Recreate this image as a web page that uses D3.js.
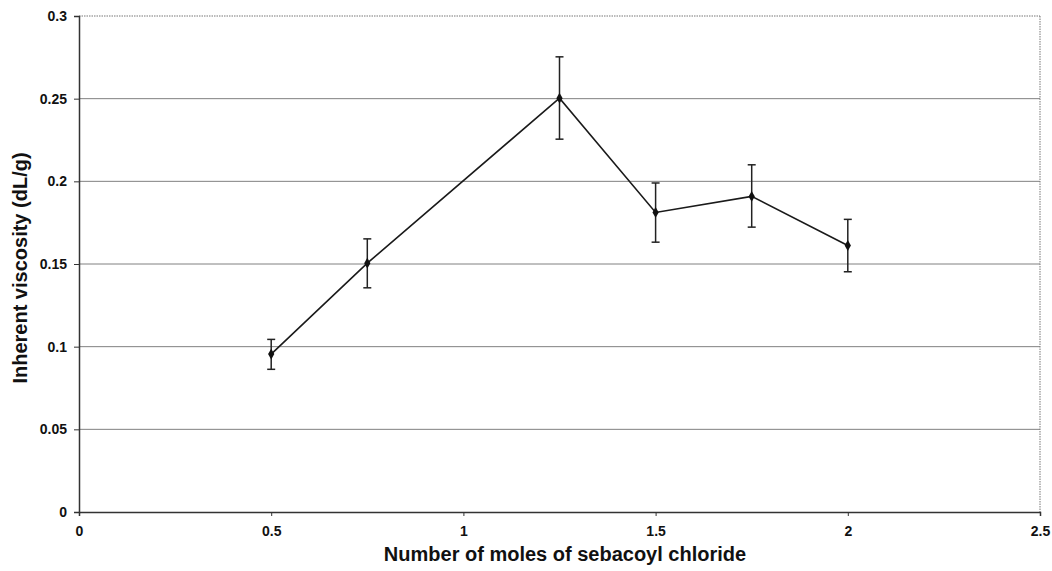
<!DOCTYPE html>
<html>
<head>
<meta charset="utf-8">
<script src="https://cdn.jsdelivr.net/npm/d3@7"></script>
<style>
  html, body { margin: 0; padding: 0; background: #fff; }
  svg { display: block; font-family: "Liberation Sans", Arial, sans-serif; }
</style>
</head>
<body>
<div id="chart"></div>
<script>
// Data
const moles = [0.5, 0.75, 1.25, 1.5, 1.75, 2];
const viscosity = [0.0955, 0.1505, 0.2503, 0.1812, 0.1909, 0.1612];
const errLow = [0.0863, 0.1356, 0.2255, 0.1632, 0.1723, 0.1453];
const errHigh = [0.1044, 0.1652, 0.2753, 0.1990, 0.2100, 0.1770];
const xTicks = [0, 0.5, 1, 1.5, 2, 2.5];
const yTicks = [0, 0.05, 0.1, 0.15, 0.2, 0.25, 0.3];

const W = 1052, H = 571;
const margin = { top: 16, right: 12, bottom: 59, left: 79 };
const width = W - margin.left - margin.right;
const height = H - margin.top - margin.bottom;

const svg = d3.select('#chart').append('svg')
  .attr('width', W).attr('height', H);

const g = svg.append('g')
  .attr('transform', `translate(${margin.left},${margin.top})`);

const x = d3.scaleLinear().domain([0, 2.5]).range([0, width]);
const y = d3.scaleLinear().domain([0, 0.3]).range([height, 0]);

// gridlines
g.selectAll('.grid').data(yTicks.filter(t => t > 0 && t < 0.3))
  .join('line')
  .attr('class', 'grid')
  .attr('x1', 0).attr('x2', width)
  .attr('y1', d => y(d)).attr('y2', d => y(d))
  .attr('stroke', '#808080')
  .attr('stroke-width', 1);

// dotted frame top / right
g.append('line')
  .attr('x1', 0).attr('x2', width)
  .attr('y1', y(0.3)).attr('y2', y(0.3))
  .attr('stroke', '#777').attr('stroke-dasharray', '1.5 1');
g.append('line')
  .attr('x1', width).attr('x2', width)
  .attr('y1', y(0.3)).attr('y2', height)
  .attr('stroke', '#777').attr('stroke-dasharray', '1.5 1');

// axes
const xAxis = g.append('g')
  .attr('transform', `translate(0,${height})`)
  .call(d3.axisBottom(x).tickValues(xTicks).tickSize(4).tickPadding(10)
    .tickFormat(d3.format('')));
const yAxis = g.append('g')
  .call(d3.axisLeft(y).tickValues(yTicks).tickSize(5).tickPadding(7)
    .tickFormat(d3.format('')));

[xAxis, yAxis].forEach(a => {
  a.select('.domain').attr('stroke', '#333').attr('stroke-width', 1.5);
  a.selectAll('.tick line').attr('stroke', '#333');
  a.selectAll('.tick text')
    .attr('fill', '#111')
    .style('font-size', '14px')
    .style('font-weight', 'bold');
});

// error bars
const cap = 4;
moles.forEach((m, i) => {
  const cx = x(m);
  g.append('line')
    .attr('x1', cx).attr('x2', cx)
    .attr('y1', y(errLow[i])).attr('y2', y(errHigh[i]))
    .attr('stroke', '#222').attr('stroke-width', 1.5);
  [errLow[i], errHigh[i]].forEach(v => {
    g.append('line')
      .attr('x1', cx - cap).attr('x2', cx + cap)
      .attr('y1', y(v)).attr('y2', y(v))
      .attr('stroke', '#222').attr('stroke-width', 1.5);
  });
});

// series line
const line = d3.line()
  .x((d, i) => x(moles[i]))
  .y(d => y(d));
g.append('path')
  .datum(viscosity)
  .attr('d', line)
  .attr('fill', 'none')
  .attr('stroke', '#1a1a1a')
  .attr('stroke-width', 1.6);

// diamond markers
g.selectAll('.pt').data(viscosity)
  .join('path')
  .attr('class', 'pt')
  .attr('transform', (d, i) => `translate(${x(moles[i])},${y(d)})`)
  .attr('d', d3.symbol().type(d3.symbolDiamond).size(34))
  .attr('fill', '#111');

// axis titles
svg.append('text')
  .attr('x', 565)
  .attr('y', 561)
  .attr('text-anchor', 'middle')
  .attr('fill', '#111')
  .style('font-size', '20px')
  .style('font-weight', 'bold')
  .text('Number of moles of sebacoyl chloride');

svg.append('text')
  .attr('transform', 'translate(27,268) rotate(-90)')
  .attr('text-anchor', 'middle')
  .attr('fill', '#111')
  .style('font-size', '20px')
  .style('font-weight', 'bold')
  .text('Inherent viscosity (dL/g)');
</script>
</body>
</html>
